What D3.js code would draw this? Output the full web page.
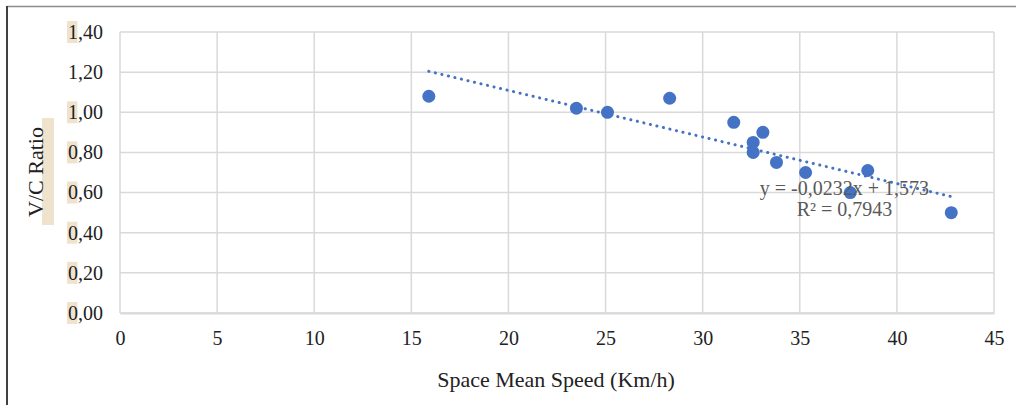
<!DOCTYPE html>
<html>
<head>
<meta charset="utf-8">
<script src="https://cdn.jsdelivr.net/npm/d3@7"></script>
<style>
  html, body { margin: 0; padding: 0; background: #fff; }
  svg { display: block; }
  svg text { font-family: "Liberation Serif", "DejaVu Serif", serif; }
</style>
</head>
<body>
<svg id="chart"></svg>
<script>
// data
const speed = [15.9, 23.5, 25.1, 28.3, 31.6, 33.1, 32.6, 32.6, 33.8, 35.3, 38.5, 37.6, 42.8];
const vcRatio = [1.08, 1.02, 1.00, 1.07, 0.95, 0.90, 0.85, 0.80, 0.75, 0.70, 0.71, 0.60, 0.50];
const xTicks = [0, 5, 10, 15, 20, 25, 30, 35, 40, 45];
const yTicks = [0, 0.2, 0.4, 0.6, 0.8, 1.0, 1.2, 1.4];
const yHighlighted = [0, 0.2, 0.4, 0.6, 0.8, 1.0, 1.4];
const trendSlope = -0.0232;
const trendIntercept = 1.573;
const eqLines = ['y = -0,0232x + 1,573', 'R\u00b2 = 0,7943'];

const W = 1016, H = 405;
const margin = { top: 32, right: 22, bottom: 92, left: 120 };
const width = W - margin.left - margin.right;
const height = H - margin.top - margin.bottom;

const svg = d3.select('#chart').attr('width', W).attr('height', H);

// outer frame (only top and left edges show)
svg.append('line').attr('x1', 7).attr('x2', W).attr('y1', 6.5).attr('y2', 6.5)
  .attr('stroke', '#8c8c8c').attr('stroke-width', 1.5);
svg.append('line').attr('x1', 7).attr('x2', 7).attr('y1', 6).attr('y2', H)
  .attr('stroke', '#404040').attr('stroke-width', 2);

const g = svg.append('g').attr('transform', `translate(${margin.left},${margin.top})`);

const x = d3.scaleLinear().domain([0, 45]).range([0, width]);
const y = d3.scaleLinear().domain([0, 1.4]).range([height, 0]);

const fmt = d => d.toFixed(2).replace('.', ',');

// gridlines
g.append('g').selectAll('line').data(yTicks).join('line')
  .attr('x1', 0).attr('x2', width)
  .attr('y1', d => y(d)).attr('y2', d => y(d))
  .attr('stroke', '#d9d9d9').attr('stroke-width', 1.5);
g.append('g').selectAll('line').data(xTicks).join('line')
  .attr('y1', 0).attr('y2', height)
  .attr('x1', d => x(d)).attr('x2', d => x(d))
  .attr('stroke', '#d9d9d9').attr('stroke-width', 1.5);

// x axis
const xAxis = g.append('g')
  .attr('transform', `translate(0,${height})`)
  .call(d3.axisBottom(x).tickValues(xTicks).tickSize(0).tickPadding(18).tickFormat(d3.format('d')))
  .attr('font-family', null).attr('font-size', 20);
xAxis.select('.domain').attr('stroke', '#d9d9d9').attr('stroke-width', 2);
xAxis.selectAll('text').attr('fill', '#222');

// y tick highlights (beige boxes behind first digit)
g.append('g').selectAll('rect').data(yHighlighted).join('rect')
  .attr('x', -53).attr('width', 10.5)
  .attr('y', d => y(d) - 11).attr('height', 22)
  .attr('fill', '#efe3cd');

// y axis
const yAxis = g.append('g')
  .call(d3.axisLeft(y).tickValues(yTicks).tickSize(0).tickPadding(17).tickFormat(fmt))
  .attr('font-family', null).attr('font-size', 20);
yAxis.select('.domain').remove();
yAxis.selectAll('text').attr('fill', '#222');

// trendline over the data range
const [x0, x1] = d3.extent(speed);
g.append('line')
  .attr('x1', x(x0)).attr('y1', y(trendSlope * x0 + trendIntercept))
  .attr('x2', x(x1)).attr('y2', y(trendSlope * x1 + trendIntercept))
  .attr('stroke', '#4472c4').attr('stroke-width', 3)
  .attr('stroke-linecap', 'round').attr('stroke-dasharray', '0.1,6.6');

// points
g.append('g').selectAll('circle').data(speed).join('circle')
  .attr('cx', d => x(d))
  .attr('cy', (d, i) => y(vcRatio[i]))
  .attr('r', 6.5)
  .attr('fill', '#4472c4');

// equation label
g.append('g').selectAll('text').data(eqLines).join('text')
  .attr('x', x(37.3)).attr('y', (d, i) => y(0.6) + 2 + i * 21)
  .attr('text-anchor', 'middle')
  .attr('font-size', 20).attr('fill', '#595959')
  .text(d => d);

// axis titles
svg.append('text')
  .attr('x', margin.left + width / 2 - 1).attr('y', 387)
  .attr('text-anchor', 'middle').attr('font-size', 22).attr('fill', '#222')
  .text('Space Mean Speed (Km/h)');

svg.append('rect').attr('x', 42).attr('y', 118).attr('width', 12).attr('height', 107)
  .attr('fill', '#efe3cd');
svg.append('text')
  .attr('transform', 'translate(43,172) rotate(-90)')
  .attr('text-anchor', 'middle').attr('font-size', 22).attr('fill', '#222')
  .text('V/C Ratio');
</script>
</body>
</html>
